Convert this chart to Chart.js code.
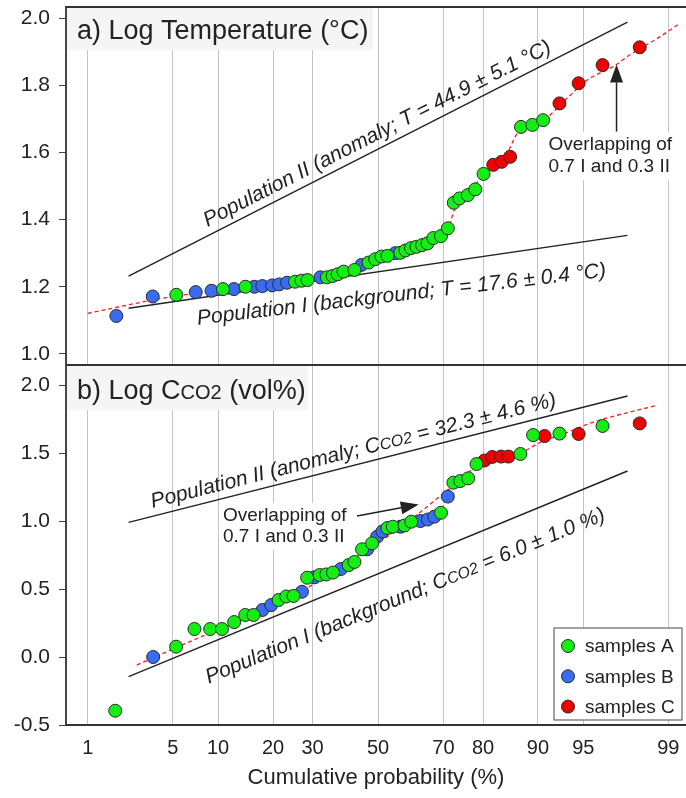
<!DOCTYPE html>
<html>
<head>
<meta charset="utf-8">
<script src="https://cdn.jsdelivr.net/npm/chart.js@4.4.1/dist/chart.umd.min.js"></script>
<style>
  html, body { margin: 0; padding: 0; background: #fff; }
  #wrap { position: relative; width: 686px; height: 798px; }
  #wrap canvas { position: absolute; left: 0; }
  #chartA { top: 0; }
  #chartB { top: 360px; }
</style>
</head>
<body>
<div id="wrap">
  <canvas id="chartB" width="686" height="438"></canvas>
  <canvas id="chartA" width="686" height="372"></canvas>
</div>
<script>
const FONT = "'Liberation Sans', Arial, Helvetica, sans-serif";

// probability axis (cumulative %)
const probTicks = [1, 5, 10, 20, 30, 50, 70, 80, 90, 95, 99];
const xMinProb = 0.62;
const xMaxProb = 99.32;

// panel a) log temperature
const tempTicks = [1.0, 1.2, 1.4, 1.6, 1.8, 2.0];
const tempProb = [1.8, 3.55, 5.3, 7.2, 9.1, 10.7, 12.4, 14.4, 16.1, 17.7,
  19.8, 21.4, 23.3, 25.3, 27.0, 28.6, 32.2, 34.1, 35.8, 37.3,
  39.1, 42.5, 44.7, 47.0, 49.1, 51.1, 53.0, 55.5, 57.1, 58.7,
  60.4, 62.1, 63.8, 65.4, 67.1, 69.3, 71.2, 72.8, 74.3, 76.4,
  78.2, 80.1, 82.2, 83.9, 85.5, 87.4, 89.2, 90.7, 92.7, 94.6,
  96.4, 98.2];
const tempLog = [1.113, 1.171, 1.176, 1.184, 1.188, 1.193, 1.193, 1.200, 1.200, 1.202,
  1.204, 1.207, 1.212, 1.215, 1.218, 1.220, 1.228, 1.228, 1.232, 1.237,
  1.245, 1.250, 1.265, 1.272, 1.282, 1.290, 1.292, 1.300, 1.301, 1.308,
  1.315, 1.319, 1.324, 1.329, 1.345, 1.351, 1.374, 1.450, 1.463, 1.473,
  1.490, 1.536, 1.563, 1.572, 1.587, 1.676, 1.682, 1.696, 1.746, 1.806,
  1.860, 1.913];
const tempGroup = ['B','B','A','B','B','A','B','A','B','B',
  'B','B','B','A','A','A','B','A','A','A',
  'A','A','B','A','A','A','A','B','A','A',
  'A','A','A','A','A','A','A','A','A','A',
  'A','A','C','C','C','A','A','A','C','C',
  'C','C'];
const tempFitProb = [1.0, 5.35, 15.3, 26.7, 41.2, 57.1, 69.1, 71.2, 73.2, 77.0,
  80.1, 84.9, 86.8, 90.8, 93.5, 95.3, 97.15, 97.7, 98.8, 99.2];
const tempFitLog = [1.121, 1.173, 1.196, 1.217, 1.250, 1.301, 1.348, 1.372, 1.435, 1.482,
  1.538, 1.597, 1.657, 1.696, 1.761, 1.815, 1.860, 1.885, 1.944, 1.982];

// panel b) log CO2
const co2Ticks = [-0.5, 0.0, 0.5, 1.0, 1.5, 2.0];
const co2Prob = [1.76, 3.58, 5.28, 7.06, 8.93, 10.55, 12.45, 14.37, 15.92, 17.73,
  19.6, 21.27, 23.1, 24.9, 27.1, 28.5, 30.5, 32.0, 33.9, 35.9,
  38.3, 40.7, 42.5, 44.9, 46.5, 48.1, 49.7, 51.4, 53.0, 54.7,
  57.1, 58.4, 60.5, 63.3, 65.5, 67.4, 69.3, 71.2, 72.7, 74.5,
  76.5, 78.5, 80.3, 82.0, 83.8, 85.2, 87.3, 89.3, 90.9, 92.7,
  94.6, 96.4, 98.2];
const co2Log = [-0.395, 0.000, 0.076, 0.206, 0.206, 0.206, 0.257, 0.309, 0.309, 0.346,
  0.382, 0.419, 0.445, 0.449, 0.480, 0.583, 0.586, 0.603, 0.607, 0.621,
  0.647, 0.676, 0.699, 0.792, 0.792, 0.836, 0.885, 0.923, 0.949, 0.958,
  0.958, 0.967, 0.995, 1.000, 1.011, 1.032, 1.061, 1.180, 1.282, 1.294,
  1.314, 1.419, 1.445, 1.471, 1.474, 1.474, 1.493, 1.632, 1.625, 1.643,
  1.640, 1.699, 1.718];
const co2Group = ['A','B','A','A','A','A','A','A','A','B',
  'B','A','A','A','B','A','B','A','A','A',
  'B','A','A','A','B','A','B','B','A','A',
  'B','A','A','B','B','B','A','B','A','A',
  'A','A','C','C','C','C','A','A','C','A',
  'C','A','C'];
const co2FitProb = [2.66, 8.3, 17.3, 26.7, 38.1, 52.3, 63.3, 69.1, 74.5, 78.5,
  83.7, 87.3, 90.4, 92.8, 95.8, 98.75];
const co2FitLog = [-0.059, 0.162, 0.331, 0.478, 0.662, 0.875, 1.066, 1.184, 1.301, 1.404,
  1.463, 1.500, 1.581, 1.632, 1.728, 1.853];

// population reference lines (end points)
const lineProb = [2.28, 97.72];
const tempPopI = [1.136, 1.353];
const tempPopII = [1.232, 1.988];
const co2PopI = [-0.145, 1.368];
const co2PopII = [0.99, 1.919];

const groups = ['A', 'B', 'C'];
const groupNames = ['samples A', 'samples B', 'samples C'];
const groupColors = ['#14ee14', '#3a6cf2', '#f20000'];

// inverse of the standard normal CDF (Acklam), p in percent
function probit(pc) {
  const q = pc / 100;
  const a = [-3.969683028665376e+01, 2.209460984245205e+02, -2.759285104469687e+02, 1.383577518672690e+02, -3.066479806614716e+01, 2.506628277459239e+00];
  const b = [-5.447609879822406e+01, 1.615858368580409e+02, -1.556989798598866e+02, 6.680131188771972e+01, -1.328068155288572e+01];
  const c = [-7.784894002430293e-03, -3.223964580411365e-01, -2.400758277161838e+00, -2.549732539343734e+00, 4.374664141464968e+00, 2.938163982698783e+00];
  const d = [7.784695709041462e-03, 3.224671290700398e-01, 2.445134137142996e+00, 3.754408661907416e+00];
  const plow = 0.02425;
  if (q < plow) {
    const t = Math.sqrt(-2 * Math.log(q));
    return (((((c[0]*t+c[1])*t+c[2])*t+c[3])*t+c[4])*t+c[5]) / ((((d[0]*t+d[1])*t+d[2])*t+d[3])*t+1);
  }
  if (q > 1 - plow) {
    const t = Math.sqrt(-2 * Math.log(1 - q));
    return -(((((c[0]*t+c[1])*t+c[2])*t+c[3])*t+c[4])*t+c[5]) / ((((d[0]*t+d[1])*t+d[2])*t+d[3])*t+1);
  }
  const t = q - 0.5, r = t * t;
  return (((((a[0]*r+a[1])*r+a[2])*r+a[3])*r+a[4])*r+a[5])*t / (((((b[0]*r+b[1])*r+b[2])*r+b[3])*r+b[4])*r+1);
}

function pts(probs, vals) {
  return probs.map((p, i) => ({ x: probit(p), y: vals[i] }));
}

// text with optional small (CO2) pieces
function drawRich(ctx, segs, x, y, size, style, align) {
  const fontOf = s => `${style} ${s.small ? Math.round(size * 0.74) : size}px ${FONT}`;
  let total = 0;
  segs.forEach(s => { ctx.font = fontOf(s); total += ctx.measureText(s.t).width; });
  let cx = align === 'center' ? x - total / 2 : x;
  ctx.textAlign = 'left';
  segs.forEach(s => {
    ctx.font = fontOf(s);
    ctx.fillText(s.t, cx, y);
    cx += ctx.measureText(s.t).width;
  });
}

function drawArrow(ctx, x1, y1, x2, y2) {
  const ang = Math.atan2(y2 - y1, x2 - x1);
  const hl = 18, hw = 6.5;
  ctx.strokeStyle = '#222';
  ctx.fillStyle = '#222';
  ctx.lineWidth = 1.5;
  ctx.beginPath();
  ctx.moveTo(x1, y1);
  ctx.lineTo(x2 - hl * Math.cos(ang), y2 - hl * Math.sin(ang));
  ctx.stroke();
  ctx.beginPath();
  ctx.moveTo(x2, y2);
  ctx.lineTo(x2 - hl * Math.cos(ang) + hw * Math.sin(ang), y2 - hl * Math.sin(ang) - hw * Math.cos(ang));
  ctx.lineTo(x2 - hl * Math.cos(ang) - hw * Math.sin(ang), y2 - hl * Math.sin(ang) + hw * Math.cos(ang));
  ctx.closePath();
  ctx.fill();
}

const panelDecor = {
  id: 'panelDecor',
  afterDatasetsDraw(chart, args, o) {
    const ctx = chart.ctx, a = chart.chartArea;
    const xs = chart.scales.x, ys = chart.scales.y;
    const px = p => xs.getPixelForValue(probit(p));
    const py = v => ys.getPixelForValue(v);
    ctx.save();

    // panel title box
    ctx.fillStyle = '#f5f5f5';
    ctx.fillRect(a.left + 1, a.top, o.titleBox[0], o.titleBox[1]);
    ctx.fillStyle = '#222';
    ctx.textBaseline = 'alphabetic';
    drawRich(ctx, o.title, a.left + 11, a.top + o.titleBase, 27, '', 'left');

    // labels along the population lines
    o.lineLabels.forEach(lab => {
      const x1 = px(lineProb[0]), y1 = py(lab.vals[0]);
      const x2 = px(lineProb[1]), y2 = py(lab.vals[1]);
      const ang = Math.atan2(y2 - y1, x2 - x1) + (lab.dAng || 0) * Math.PI / 180;
      ctx.save();
      ctx.translate(x1 + (x2 - x1) * lab.t, y1 + (y2 - y1) * lab.t);
      ctx.rotate(ang);
      ctx.fillStyle = '#222';
      ctx.textBaseline = 'alphabetic';
      drawRich(ctx, lab.segs, 0, lab.off, 21, 'italic', 'center');
      ctx.restore();
    });

    // overlapping note
    const n = o.note;
    ctx.font = `19px ${FONT}`;
    const w = Math.max(...n.lines.map(s => ctx.measureText(s).width));
    const nx = px(n.p);
    const ny0 = py(n.v[0]), ny1 = py(n.v[1]);
    ctx.fillStyle = '#ffffff';
    ctx.fillRect(nx - 4, ny0 - 13, w + 8, ny1 - ny0 + 26);
    ctx.fillStyle = '#222';
    ctx.textAlign = 'left';
    ctx.textBaseline = 'middle';
    ctx.fillText(n.lines[0], nx, ny0);
    ctx.fillText(n.lines[1], nx, ny1);
    drawArrow(ctx, px(n.arrow[0]), py(n.arrow[1]), px(n.arrow[2]), py(n.arrow[3]));

    // legend
    if (o.legend) {
      const lw = 128, lh = 92;
      const lx = a.right - 4 - lw, ly = a.bottom - 5 - lh;
      ctx.fillStyle = '#ffffff';
      ctx.fillRect(lx, ly, lw, lh);
      ctx.strokeStyle = '#666';
      ctx.lineWidth = 1.2;
      ctx.strokeRect(lx, ly, lw, lh);
      groupNames.forEach((name, i) => {
        const cy = ly + 18 + i * 30.3;
        ctx.beginPath();
        ctx.arc(lx + 14, cy, 6.5, 0, Math.PI * 2);
        ctx.fillStyle = groupColors[i];
        ctx.fill();
        ctx.lineWidth = 1;
        ctx.strokeStyle = '#2a2a2a';
        ctx.stroke();
        ctx.fillStyle = '#222';
        ctx.font = `19px ${FONT}`;
        ctx.textBaseline = 'middle';
        ctx.fillText(name, lx + 31, cy + 1);
      });
    }

    // frame (the lower panel shares its top edge with the upper one)
    ctx.strokeStyle = '#333';
    ctx.lineWidth = 1.8;
    ctx.beginPath();
    if (o.frameTop) {
      ctx.moveTo(a.right, a.top);
      ctx.lineTo(a.left, a.top);
    } else {
      ctx.moveTo(a.left, a.top);
    }
    ctx.lineTo(a.left, a.bottom);
    ctx.lineTo(a.right, a.bottom);
    ctx.stroke();
    ctx.restore();
  }
};

function makePanel(canvasId, cfg) {
  const datasets = [];
  groups.forEach((g, gi) => {
    const idx = cfg.group.map((v, i) => v === g ? i : -1).filter(i => i >= 0);
    datasets.push({
      label: groupNames[gi],
      data: idx.map(i => ({ x: probit(cfg.prob[i]), y: cfg.vals[i] })),
      backgroundColor: groupColors[gi],
      borderColor: '#2a2a2a',
      borderWidth: 1,
      pointRadius: 6.5,
      order: gi
    });
  });
  datasets.push({
    label: 'fit', data: pts(cfg.fitProb, cfg.fitVals), showLine: true, pointRadius: 0,
    borderColor: '#ff1a1a', borderWidth: 1.3, borderDash: [4, 3],
    cubicInterpolationMode: 'monotone', order: 5
  });
  [cfg.popI, cfg.popII].forEach(v => datasets.push({
    label: 'pop', data: pts(lineProb, v), showLine: true, pointRadius: 0,
    borderColor: '#222', borderWidth: 1.4, order: 6
  }));

  return new Chart(document.getElementById(canvasId), {
    type: 'scatter',
    data: { datasets },
    options: {
      responsive: false,
      animation: false,
      events: [],
      layout: { autoPadding: false, padding: { top: cfg.padTop, left: 0, right: 0, bottom: 0 } },
      plugins: {
        legend: { display: false },
        tooltip: { enabled: false },
        panelDecor: cfg.decor
      },
      scales: {
        x: {
          type: 'linear',
          min: probit(xMinProb),
          max: probit(xMaxProb),
          afterBuildTicks: ax => { ax.ticks = probTicks.map(p => ({ value: probit(p) })); },
          ticks: {
            display: cfg.showX,
            autoSkip: false,
            maxRotation: 0,
            padding: 11,
            color: '#222',
            font: { size: 20, family: FONT },
            callback: (v, i) => String(probTicks[i])
          },
          grid: { color: '#c4c4c4', lineWidth: 1, drawTicks: false },
          border: { display: false },
          title: {
            display: cfg.showX,
            text: 'Cumulative probability (%)',
            color: '#222',
            font: { size: 22, family: FONT },
            padding: { top: 4, bottom: 7 }
          },
          afterFit: ax => {
            ax.height = cfg.xHeight;
            ax.paddingLeft = 0;
            ax.paddingRight = 0;
          }
        },
        y: {
          min: cfg.yMin,
          max: cfg.yMax,
          afterBuildTicks: ax => { ax.ticks = cfg.yTicks.map(v => ({ value: v })); },
          ticks: {
            padding: 9,
            color: '#222',
            font: { size: 21, family: FONT },
            callback: v => v.toFixed(1)
          },
          grid: { drawOnChartArea: false, tickLength: 7, tickColor: '#444' },
          border: { display: false },
          afterFit: ax => {
            ax.width = 66;
            ax.paddingTop = 0;
            ax.paddingBottom = 0;
          }
        }
      }
    },
    plugins: [panelDecor]
  });
}

makePanel('chartA', {
  prob: tempProb, vals: tempLog, group: tempGroup,
  fitProb: tempFitProb, fitVals: tempFitLog,
  popI: tempPopI, popII: tempPopII,
  yMin: 0.967, yMax: 2.033, yTicks: tempTicks,
  padTop: 7, xHeight: 7, showX: false,
  decor: {
    titleBox: [306, 43], titleBase: 32, frameTop: true,
    title: [{ t: 'a) Log Temperature (°C)' }],
    lineLabels: [
      { vals: tempPopII, t: 0.511, off: -8, segs: [{ t: 'Population II (anomaly; T = 44.9 ± 5.1 °C)' }] },
      { vals: tempPopI, t: 0.541, off: 32, dAng: 1.6, segs: [{ t: 'Population I (background; T = 17.6 ± 0.4 °C)' }] }
    ],
    note: { p: 91.4, v: [1.622, 1.557], lines: ['Overlapping of', '0.7 I and 0.3 II'],
      arrow: [97.2, 1.662, 97.2, 1.862] },
    legend: false
  }
});

makePanel('chartB', {
  prob: co2Prob, vals: co2Log, group: co2Group,
  fitProb: co2FitProb, fitVals: co2FitLog,
  popI: co2PopI, popII: co2PopII,
  yMin: -0.5, yMax: 2.14, yTicks: co2Ticks,
  padTop: 6, xHeight: 73, showX: true,
  decor: {
    titleBox: [241, 44], titleBase: 33, frameTop: false,
    title: [{ t: 'b) Log C' }, { t: 'CO2', small: true }, { t: ' (vol%)' }],
    lineLabels: [
      { vals: co2PopII, t: 0.4575, off: -8,
        segs: [{ t: 'Population II (anomaly; C' }, { t: 'CO2', small: true }, { t: ' = 32.3 ± 4.6 %)' }] },
      { vals: co2PopI, t: 0.531, off: 37,
        segs: [{ t: 'Population I (background; C' }, { t: 'CO2', small: true }, { t: ' = 6.0 ± 1.0 %)' }] }
    ],
    note: { p: 10.7, v: [1.037, 0.885], lines: ['Overlapping of', '0.7 I and 0.3 II'],
      arrow: [43.3, 1.037, 62.8, 1.121] },
    legend: true
  }
});
</script>
</body>
</html>
